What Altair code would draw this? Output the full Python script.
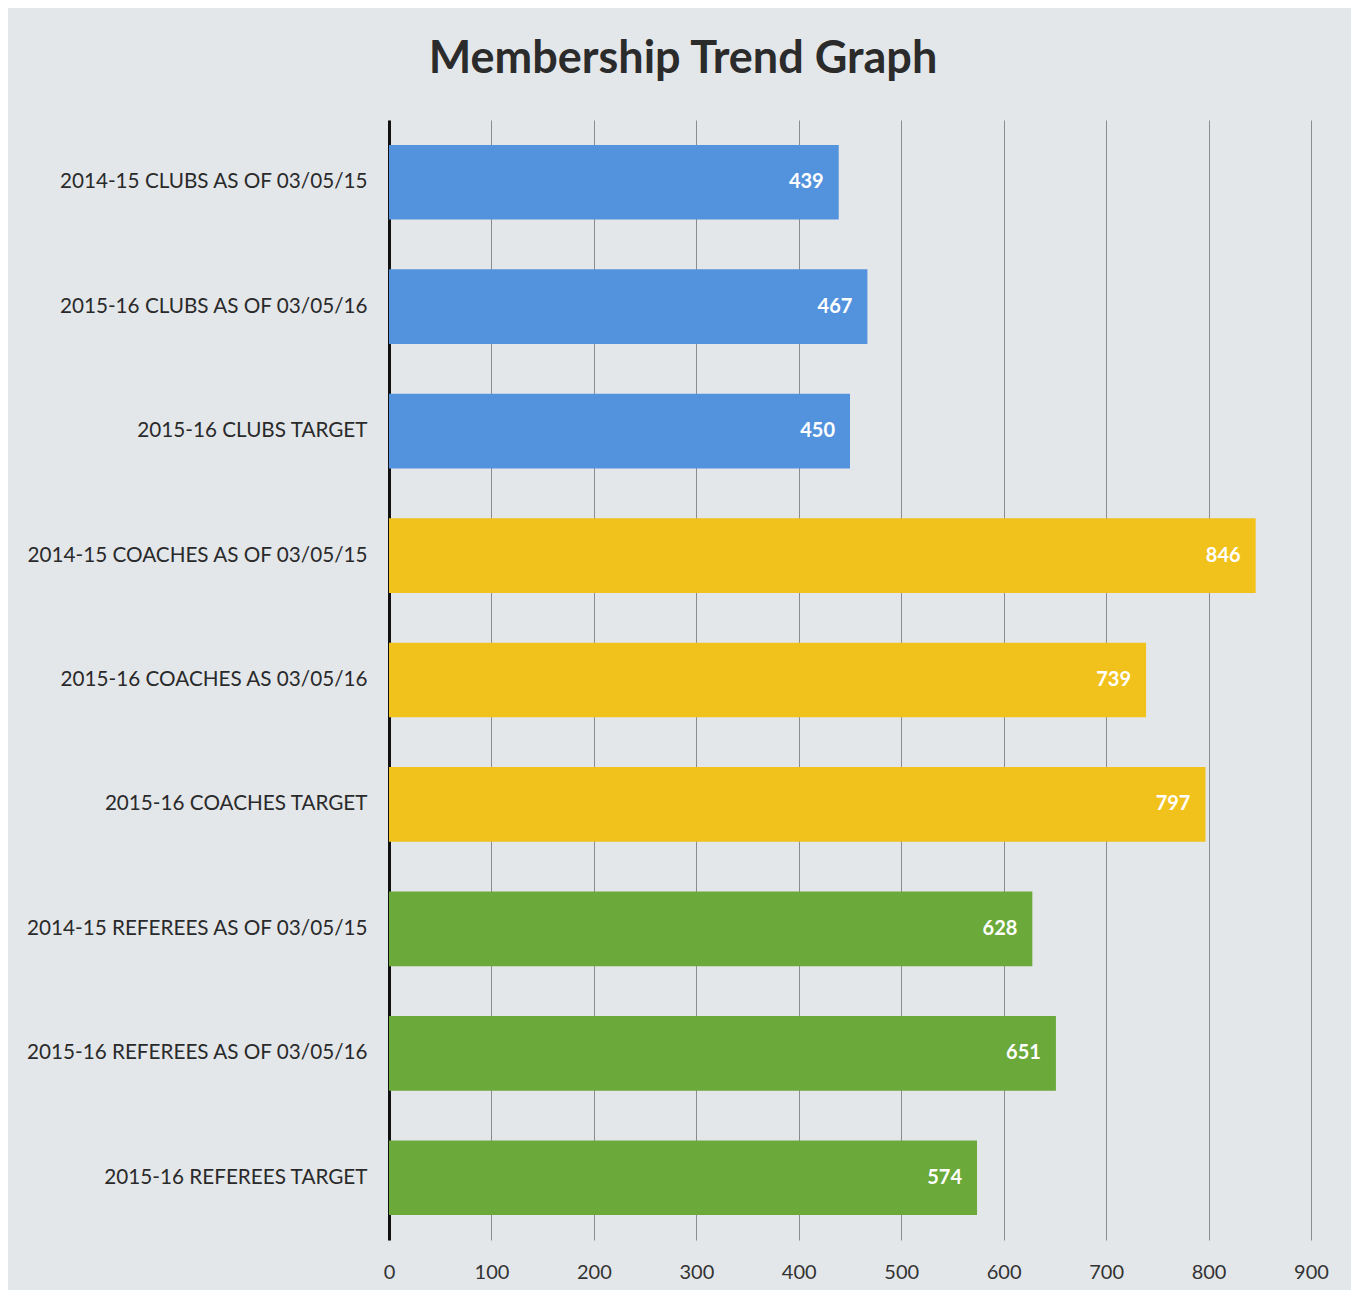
import altair as alt
import pandas as pd

categories = [
    "2014-15 CLUBS AS OF 03/05/15",
    "2015-16 CLUBS AS OF 03/05/16",
    "2015-16 CLUBS TARGET",
    "2014-15 COACHES AS OF 03/05/15",
    "2015-16 COACHES AS 03/05/16",
    "2015-16 COACHES TARGET",
    "2014-15 REFEREES AS OF 03/05/15",
    "2015-16 REFEREES AS OF 03/05/16",
    "2015-16 REFEREES TARGET",
]
values = [439, 467, 450, 846, 739, 797, 628, 651, 574]
groups = ["Clubs"] * 3 + ["Coaches"] * 3 + ["Referees"] * 3
group_names = ["Clubs", "Coaches", "Referees"]
group_colors = ["#5393dd", "#f1c21c", "#6aa93a"]
x_ticks = [0, 100, 200, 300, 400, 500, 600, 700, 800, 900]

df = pd.DataFrame({"category": categories, "value": values, "group": groups})

y_enc = alt.Y(
    "category:N",
    sort=categories,
    title=None,
    scale=alt.Scale(paddingInner=0.4, paddingOuter=0.2),
    axis=alt.Axis(
        domainColor="#111111",
        domainWidth=3,
        ticks=False,
        labelFont="Lato",
        labelFontSize=20.7,
        labelColor="#2a2a2a",
        labelPadding=22,
        labelLimit=400,
    ),
)
x_enc = alt.X(
    "value:Q",
    title=None,
    scale=alt.Scale(domain=[0, 900], nice=False),
    axis=alt.Axis(
        values=x_ticks,
        grid=True,
        gridColor="#8c8c8c",
        gridWidth=1,
        domain=False,
        ticks=False,
        labelFont="Lato",
        labelFontSize=20,
        labelColor="#333333",
        labelPadding=22,
        labelFlush=False,
    ),
)

bars = alt.Chart(df).mark_bar().encode(
    y=y_enc,
    x=x_enc,
    color=alt.Color(
        "group:N",
        scale=alt.Scale(domain=group_names, range=group_colors),
        legend=None,
    ),
)

labels = alt.Chart(df).mark_text(
    align="right", baseline="middle", dx=-15, color="white",
    font="Lato", fontWeight="bold", fontSize=20,
).encode(
    y=alt.Y("category:N", sort=categories),
    x=alt.X("value:Q"),
    text=alt.Text("value:Q"),
)

chart = (
    alt.layer(bars, labels)
    .properties(
        width=922,
        height=1120,
        title=alt.TitleParams(
            "Membership Trend Graph",
            font="Lato",
            fontSize=45,
            fontWeight="bold",
            color="#2b2b2b",
            anchor="middle",
            dx=-167,
            offset=38,
        ),
        autosize=alt.AutoSizeParams(type="none"),
        padding={"left": 381, "top": 112, "right": 40, "bottom": 50},
    )
    .configure(background="#e4e7ea")
    .configure_view(stroke=None)
)

chart.save("out.html", embed_options={"renderer": "svg", "actions": False})
